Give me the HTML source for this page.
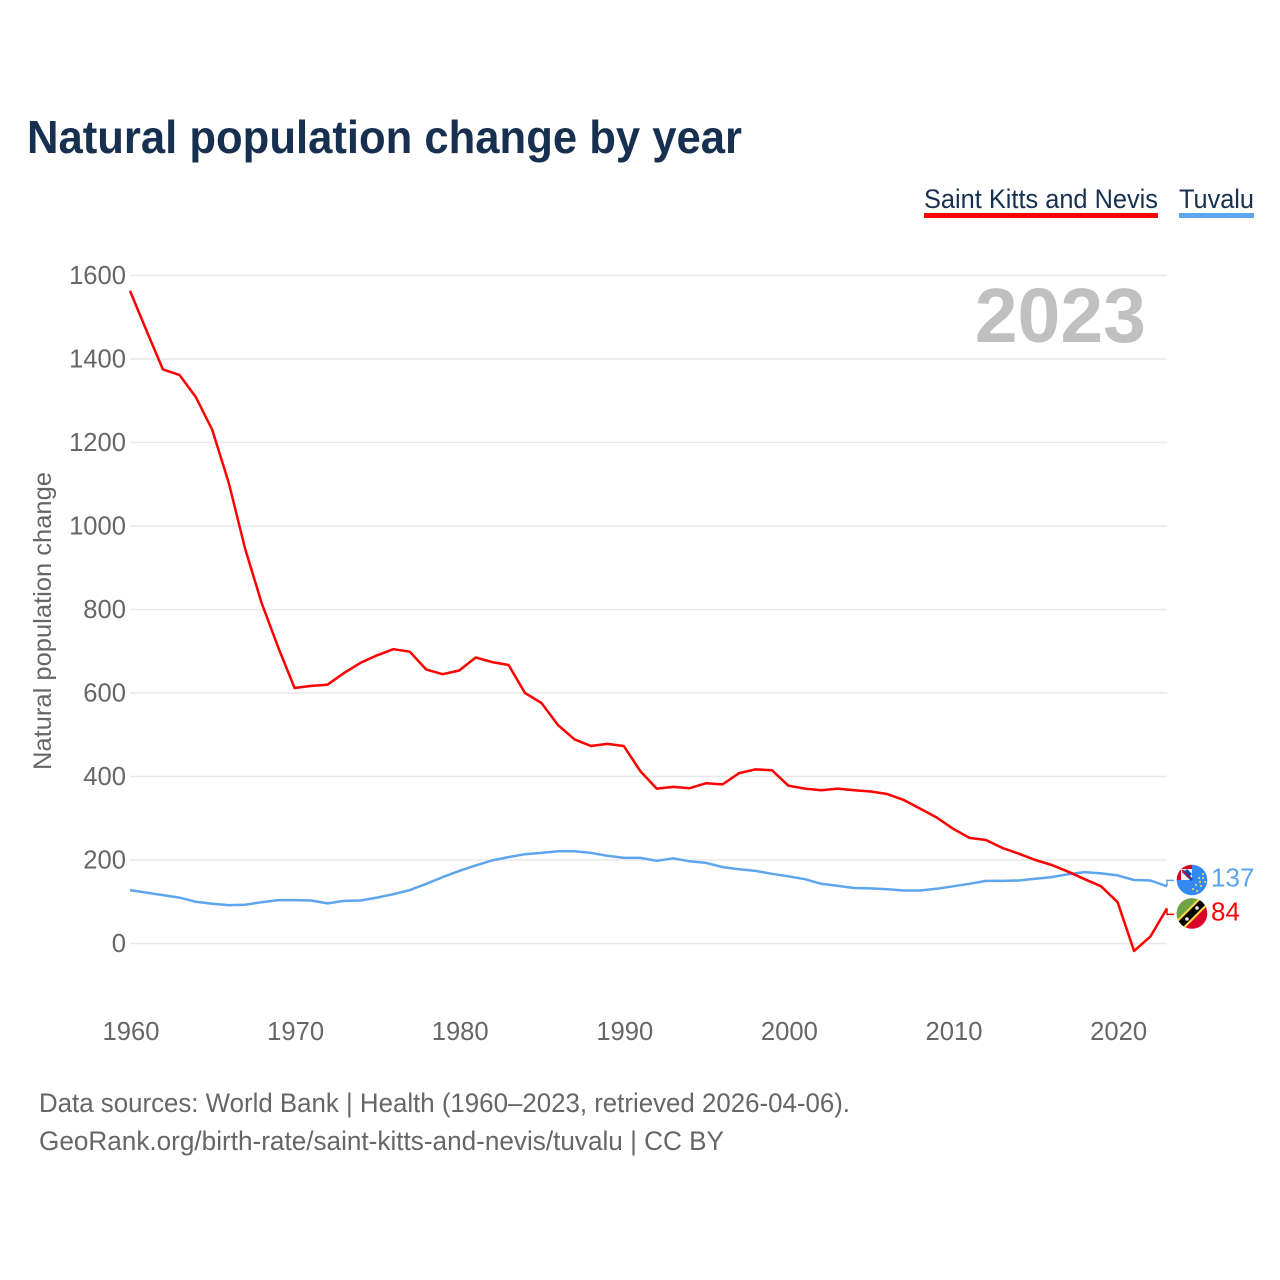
<!DOCTYPE html>
<html lang="en">
<head>
<meta charset="utf-8">
<title>Natural population change by year</title>
<style>
html,body{margin:0;padding:0;background:#fff;}
svg{display:block;font-family:"Liberation Sans",sans-serif;}
</style>
</head>
<body>
<svg id="chart" width="1280" height="1280" viewBox="0 0 1280 1280" xmlns="http://www.w3.org/2000/svg">
  <defs>
    <clipPath id="clip-tv"><circle cx="1192" cy="880" r="15.3"/></clipPath>
    <clipPath id="clip-kn"><circle cx="1192" cy="913.5" r="15.3"/></clipPath>
  </defs>
  <text x="27" y="153" font-size="46" font-weight="700" fill="#18304f" textLength="715" lengthAdjust="spacingAndGlyphs">Natural population change by year</text>

  <g>
    <text x="924" y="208" font-size="27" fill="#18304f" textLength="234" lengthAdjust="spacingAndGlyphs">Saint Kitts and Nevis</text>
    <rect x="924" y="213" width="234" height="5" fill="#ff0000"/>
  </g>
  <g>
    <text x="1179" y="208" font-size="27" fill="#18304f" textLength="75" lengthAdjust="spacingAndGlyphs">Tuvalu</text>
    <rect x="1179" y="213" width="75" height="5" fill="#5da5ee"/>
  </g>

  <g id="grid"></g>
  <g id="y-ticks"></g>
  <g id="x-ticks"></g>

  <text id="year-label" x="1146" y="342" font-size="77" font-weight="700" fill="#c0c0c0" text-anchor="end"></text>

  <text transform="translate(51,621) rotate(-90)" font-size="25" fill="#666666" text-anchor="middle" textLength="298" lengthAdjust="spacingAndGlyphs">Natural population change</text>

  <g id="series"></g>

  <g clip-path="url(#clip-tv)">
    <circle cx="1192" cy="880" r="16" fill="#338af3"/>
    <rect x="1176" y="864" width="16" height="16" fill="#f0f0f0"/>
    <rect x="1176" y="864" width="16" height="5" fill="#d80027"/>
    <rect x="1176" y="864" width="5" height="16" fill="#d80027"/>
    <path d="M1183 871 L1192 880 M1186 870 L1191 875" stroke="#0052b4" stroke-width="3"/>
    <path d="M1182 870 L1190 878" stroke="#d80027" stroke-width="1.5"/>
    <g fill="#ffda44">
      <circle cx="1203" cy="874" r="1"/><circle cx="1199" cy="878" r="1"/><circle cx="1203" cy="878" r="1"/>
      <circle cx="1205" cy="882" r="1"/><circle cx="1200" cy="882" r="1"/><circle cx="1196" cy="885" r="1"/>
      <circle cx="1201" cy="886" r="1"/><circle cx="1193" cy="889" r="1"/><circle cx="1197" cy="891" r="1"/>
    </g>
  </g>
  <g clip-path="url(#clip-kn)">
    <circle cx="1192" cy="913.5" r="16" fill="#d80027"/>
    <path d="M1176 897 H1208 L1176 929 Z" fill="#6da544"/>
    <path d="M1172 925 L1204 893 L1212 901 L1180 933 Z" fill="#ffda44"/>
    <path d="M1174 926 L1205 895 L1210 900 L1179 931 Z" fill="#000000"/>
    <circle cx="1197" cy="908" r="1.8" fill="#f0f0f0"/>
    <circle cx="1187" cy="919" r="1.8" fill="#f0f0f0"/>
  </g>

  <g id="end-labels"></g>

  <text x="39" y="1112" font-size="27" fill="#666666" textLength="811" lengthAdjust="spacingAndGlyphs">Data sources: World Bank | Health (1960–2023, retrieved 2026-04-06).</text>
  <text x="39" y="1150" font-size="27" fill="#666666" textLength="685" lengthAdjust="spacingAndGlyphs">GeoRank.org/birth-rate/saint-kitts-and-nevis/tuvalu | CC BY</text>
</svg>
<script>
const startYear = 1960;
const xTickLabels = [1960, 1970, 1980, 1990, 2000, 2010, 2020];
const yTickLabels = [0, 200, 400, 600, 800, 1000, 1200, 1400, 1600];
const kittsValues = [1563,1468,1375,1362,1309,1230,1103,945,815,710,612,617,620,648,672,690,705,699,656,645,654,685,674,667,600,576,523,489,473,478,473,413,371,375,372,384,381,408,417,415,378,371,367,371,367,364,358,344,323,302,275,253,248,229,215,200,188,172,154,137,99,-18,17,84];
const tuvaluValues = [128,122,116,110,100,95,92,93,99,104,104,103,96,102,103,110,118,128,143,159,174,187,199,207,214,217,221,221,217,210,205,205,198,204,197,193,183,178,174,167,161,154,143,138,133,132,130,127,127,131,137,143,150,150,151,155,159,166,171,168,163,152,151,137];

const svgNS = 'http://www.w3.org/2000/svg';
const xScale = function (year) { return 130 + (year - 1960) * 16.46; };
const yScale = function (value) { return 943.5 - value * 0.4175; };

function make(tag, parent, attrs, text) {
  const el = document.createElementNS(svgNS, tag);
  for (const key in attrs) el.setAttribute(key, attrs[key]);
  if (text !== undefined) el.textContent = text;
  parent.appendChild(el);
  return el;
}

const gridGroup = document.getElementById('grid');
const yTickGroup = document.getElementById('y-ticks');
const xTickGroup = document.getElementById('x-ticks');
const seriesGroup = document.getElementById('series');
const labelGroup = document.getElementById('end-labels');

yTickLabels.forEach(function (tick) {
  const line = make('line', gridGroup, {x1: 130, x2: 1167, y1: yScale(tick), y2: yScale(tick), stroke: '#e9e9e9', 'stroke-width': 1.5});
  
  
  const label = make('text', yTickGroup, {x: 126, y: yScale(tick) + 8.5, 'font-size': 25.6, fill: '#666666', 'text-anchor': 'end'}, String(tick));
  
  
});

xTickLabels.forEach(function (tick) {
  const label = make('text', xTickGroup, {x: xScale(tick) + 1, y: 1040, 'font-size': 25.6, fill: '#666666', 'text-anchor': 'middle'}, String(tick));
  
  
});

function linePoints(values) {
  return values.map(function (v, i) {
    return xScale(startYear + i).toFixed(1) + ',' + yScale(v).toFixed(1);
  }).join(' ');
}

const tuvaluLine = make('polyline', seriesGroup, {points: linePoints(tuvaluValues), fill: 'none', stroke: '#5da5ee', 'stroke-width': 2.5, 'stroke-linejoin': 'round'});



const kittsLine = make('polyline', seriesGroup, {points: linePoints(kittsValues), fill: 'none', stroke: '#ff0000', 'stroke-width': 2.5, 'stroke-linejoin': 'round'});



const lastIndex = kittsValues.length - 1;
const lastYear = startYear + lastIndex;
document.getElementById('year-label').textContent = String(lastYear);

const tuvaluEnd = yScale(tuvaluValues[lastIndex]);
const kittsEnd = yScale(kittsValues[lastIndex]);
const middle = (tuvaluEnd + kittsEnd) / 2;
const upper = tuvaluEnd <= kittsEnd ? 1 : -1;
const tuvaluLabelY = middle - upper * 17;
const kittsLabelY = middle + upper * 17;
const endX = xScale(lastYear);

const tuvaluStep = make('path', seriesGroup, {d: 'M' + endX + ' ' + tuvaluEnd + ' V' + tuvaluLabelY + ' H' + (endX + 7), fill: 'none', stroke: '#5da5ee', 'stroke-width': 1.5});



const kittsStep = make('path', seriesGroup, {d: 'M' + endX + ' ' + kittsEnd + ' V' + kittsLabelY + ' H' + (endX + 7), fill: 'none', stroke: '#ff0000', 'stroke-width': 1.5});



const tuvaluValueLabel = make('text', labelGroup, {x: 1211, y: tuvaluLabelY + 6, 'font-size': 26, fill: '#5da5ee'}, String(tuvaluValues[lastIndex]));



const kittsValueLabel = make('text', labelGroup, {x: 1211, y: kittsLabelY + 6, 'font-size': 26, fill: '#ff0000'}, String(kittsValues[lastIndex]));


</script>
</body>
</html>
